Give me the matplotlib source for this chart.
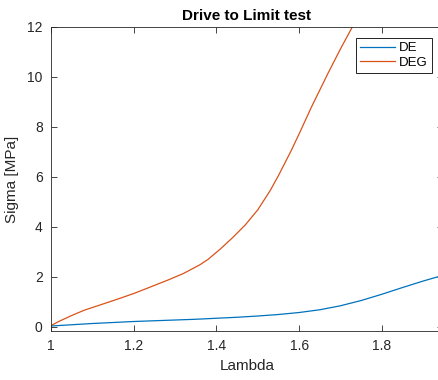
import matplotlib
matplotlib.use("Agg")
import matplotlib.pyplot as plt

plt.rcParams['font.family'] = ['Liberation Sans', 'DejaVu Sans']

# stretch ratio / stress
lam_de = [1.00, 1.05, 1.10, 1.15, 1.20, 1.25, 1.30, 1.35, 1.40, 1.45, 1.50, 1.55,
          1.60, 1.65, 1.70, 1.75, 1.80, 1.85, 1.90, 1.948]
sig_de = [0.03, 0.08, 0.13, 0.17, 0.21, 0.24, 0.27, 0.30, 0.34, 0.38, 0.43, 0.49,
          0.57, 0.68, 0.84, 1.05, 1.30, 1.57, 1.83, 2.06]

lam_deg = [1.00, 1.02, 1.05, 1.08, 1.12, 1.16, 1.20, 1.24, 1.28, 1.32, 1.36, 1.38,
           1.41, 1.44, 1.47, 1.50, 1.53, 1.55, 1.58, 1.60, 1.63, 1.67, 1.70, 1.727, 1.75]
sig_deg = [0.05, 0.22, 0.45, 0.66, 0.88, 1.10, 1.33, 1.59, 1.85, 2.13, 2.48, 2.70,
           3.12, 3.58, 4.08, 4.68, 5.45, 6.05, 7.02, 7.72, 8.80, 10.15, 11.12, 11.95, 12.7]

W, H = 438, 380
fig = plt.figure(figsize=(W / 100, H / 100), dpi=100)
ax = fig.add_axes([51 / W, (H - 331) / H, (443 - 51) / W, (331 - 27) / H])

ax.plot(lam_de, sig_de, color='#0072BD', lw=0.9, label='DE')
ax.plot(lam_deg, sig_deg, color='#D95319', lw=0.9, label='DEG')

ax.set_xlim(1, 1.948)
ax.set_ylim(-0.17, 12)
ax.set_xticks([1, 1.2, 1.4, 1.6, 1.8])
ax.set_xticklabels(['1', '1.2', '1.4', '1.6', '1.8'])
ax.set_yticks(range(0, 13, 2))

dark = '#262626'
for s in ax.spines.values():
    s.set_color(dark)
    s.set_linewidth(0.6)
ax.tick_params(direction='in', length=4, width=0.6, colors=dark, labelsize=10,
               top=True, right=True, pad=6)

ax.set_xlabel('Lambda', fontsize=11, color=dark, labelpad=4)
ax.set_ylabel('Sigma [MPa]', fontsize=11, color=dark, labelpad=6)
ax.set_title('Drive to Limit test', fontsize=11, fontweight='bold', color='black', pad=5)

leg = ax.legend(loc='upper right', bbox_to_anchor=((432 - 51) / 392, (331 - 38) / 304),
                borderaxespad=0, fontsize=9.5, handlelength=2.7, handletextpad=0.3,
                fancybox=False, framealpha=1, borderpad=0.3, labelspacing=0.2)
leg.get_frame().set_edgecolor('black')
leg.get_frame().set_linewidth(0.6)

fig.savefig('out.png', dpi=100)
